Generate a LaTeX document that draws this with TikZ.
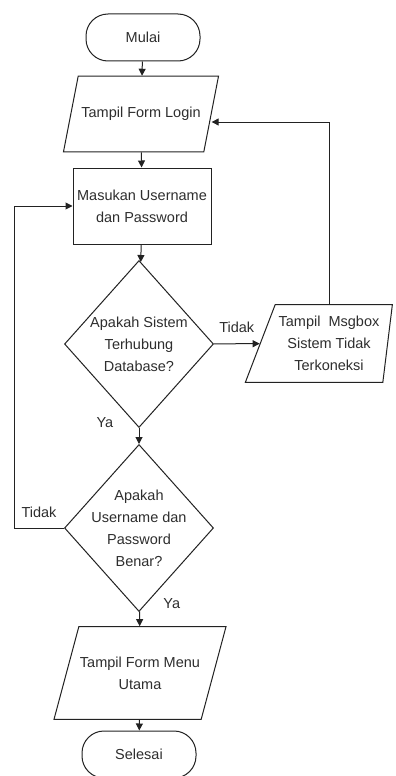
\documentclass[tikz,border=0pt]{standalone}
\usepackage{fontspec}
\setmainfont{Liberation Sans}
\usetikzlibrary{arrows.meta, shapes.geometric, calc}
\definecolor{inkgray}{HTML}{2E2E2E}
\definecolor{linegray}{HTML}{222222}

\begin{document}
\begin{tikzpicture}[x=1pt, y=-1pt, >={Triangle[length=7pt, width=7pt]},
  every node/.style={font=\fontsize{14.5}{22}\selectfont, text=inkgray, align=center},
  terminal/.style={draw=linegray, line width=1pt, rounded corners=22pt,
    minimum width=114pt, minimum height=47pt},
  process/.style={draw=linegray, line width=1pt, minimum width=138pt,
    minimum height=76pt, inner sep=0pt},
  io/.style={draw=linegray, line width=1pt, trapezium, trapezium stretches body,
    inner xsep=0pt},
  decision/.style={draw=linegray, line width=1pt, diamond, aspect=0.89,
    minimum width=149pt, minimum height=167pt, inner sep=-4pt},
  flow/.style={->, draw=linegray, line width=1pt}]

% Frame
\useasboundingbox (0,0) rectangle (396,776);
\fill[white] (0,0) rectangle (396,776);

% Main column
\node[terminal] (mulai) at (143,37.5) {Mulai};
\node[io, trapezium left angle=79, trapezium right angle=101,
  inner ysep=31pt, minimum width=155pt] (login) at (141,114) {Tampil Form Login};
\node[process] (masukan) at (142,206) {Masukan Username\\dan Password};
\node[decision] (cekdb) at (139,344) {Apakah Sistem\\Terhubung\\Database?};
\node[decision] (cekuser) at (139,528) {Apakah\\Username dan\\Password\\Benar?};
\node[io, trapezium left angle=75, trapezium right angle=105,
  inner ysep=30pt, minimum width=172pt] (menu) at (140,673) {Tampil Form Menu\\Utama};
\node[terminal] (selesai) at (139,754.5) {Selesai};

% Side branch
\node[io, trapezium left angle=69, trapezium right angle=97,
  inner ysep=11.5pt, minimum width=147pt] (msgbox) at (329,343.5)
  {Tampil~ Msgbox\\Sistem Tidak\\Terkoneksi};
\coordinate (kiri) at (14,0);

% Connectors
\draw[flow] (mulai) -- (login);
\draw[flow] (login) -- (masukan);
\draw[flow] (masukan) -- (cekdb);
\draw[flow] (cekdb) -- node[pos=0, left=22pt, yshift=5pt] {Ya} (cekuser);
\draw[flow] (cekdb) -- node[above=7pt] {Tidak} (msgbox);
\draw[flow] (msgbox.north) |- ([yshift=-8pt]login.east);
\draw[flow] (cekuser.west) -- node[above=7pt] {Tidak} (cekuser.west -| kiri)
  |- (masukan.west);
\draw[flow] (cekuser) -- node[pos=0, right=20pt, yshift=8pt] {Ya} (menu);
\draw[flow] (menu) -- (selesai);

\end{tikzpicture}
\end{document}
